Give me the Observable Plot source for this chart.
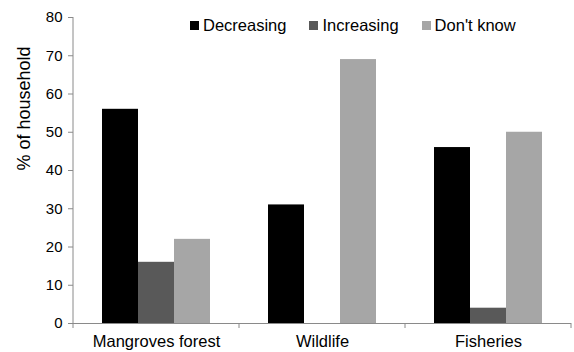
<!DOCTYPE html>
<html>
<head>
<meta charset="utf-8">
<script src="https://cdn.jsdelivr.net/npm/d3@7"></script>
<script src="https://cdn.jsdelivr.net/npm/@observablehq/plot@0.6"></script>
<style>
  body { margin: 0; background: #fff; }
  #wrap { position: relative; width: 574px; height: 352px; font-family: "Liberation Sans", Arial, sans-serif; }
  #legend { position: absolute; left: 190px; top: 9px; }
  .lg-swatches { font: 16.5px "Liberation Sans", Arial, sans-serif !important; color: #000 !important; }
  .lg-swatch { margin-right: 23px !important; }
  .lg-swatch > svg { margin-right: 4px !important; }
</style>
</head>
<body>
<div id="wrap"><div id="legend"></div></div>
<script>
// Survey categories and the share of households giving each answer
const categories = ["Mangroves forest", "Wildlife", "Fisheries"];
const series = ["Decreasing", "Increasing", "Don't know"];
const decreasing = [56, 31, 46];
const increasing = [16, 0, 4];
const dontKnow = [22, 69, 50];
const colors = ["#000000", "#595959", "#a6a6a6"];
const yTicks = [0, 10, 20, 30, 40, 50, 60, 70, 80];
const yTitle = "% of household";

const values = [decreasing, increasing, dontKnow];
const rows = categories.flatMap((c, i) =>
  series.map((s, j) => ({category: c, series: s, value: values[j][i]}))
);

const font = '"Liberation Sans", Arial, sans-serif';

const chart = Plot.plot({
  width: 574,
  height: 352,
  marginLeft: 72,
  marginRight: 2,
  marginTop: 17,
  marginBottom: 29,
  style: {fontFamily: font, fontSize: "16px", color: "#000", background: "#fff"},
  fx: {domain: categories, paddingInner: 0, paddingOuter: 0, label: null},
  x: {domain: series, paddingInner: 0, paddingOuter: 0.75, axis: null},
  y: {domain: [0, 80]},
  color: {domain: series, range: colors},
  marks: [
    Plot.barY(rows, {fx: "category", x: "series", y: "value", fill: "series"}),
    Plot.ruleY([0], {stroke: "#8a8a8a", strokeWidth: 1}),
    Plot.axisY(yTicks, {
      tickSize: 5, tickPadding: 6, stroke: "#8a8a8a",
      fontSize: 15, fill: "#000", label: null
    }),
    // y title, drawn once in the leftmost panel
    Plot.text([yTitle], {
      fx: () => categories[0], text: d => d, frameAnchor: "left",
      rotate: -90, dx: -49, fontSize: 18, fill: "#000"
    }),
    Plot.axisFx({anchor: "bottom", tickSize: 0, tickPadding: 12, fontSize: 16.5, fill: "#000", label: null})
  ]
});

// Axis line on the left and category separators along the bottom
const fxs = chart.scale("fx");
const ys = chart.scale("y");
const edges = fxs.domain.map(c => fxs.apply(c)).concat([fxs.apply(fxs.domain[fxs.domain.length - 1]) + fxs.bandwidth]);
const svg = d3.select(chart);
const y0 = ys.apply(0), yTop = ys.apply(80);
svg.append("line")
  .attr("x1", edges[0]).attr("x2", edges[0])
  .attr("y1", yTop).attr("y2", y0)
  .attr("stroke", "#8a8a8a");
svg.selectAll("line.sep").data(edges).join("line")
  .attr("class", "sep")
  .attr("x1", d => d).attr("x2", d => d)
  .attr("y1", y0).attr("y2", y0 + 5)
  .attr("stroke", "#8a8a8a");

document.getElementById("wrap").prepend(chart);
document.getElementById("legend").append(
  Plot.legend({color: {domain: series, range: colors}, legend: "swatches", swatchSize: 9, className: "lg"})
);
</script>
</body>
</html>
